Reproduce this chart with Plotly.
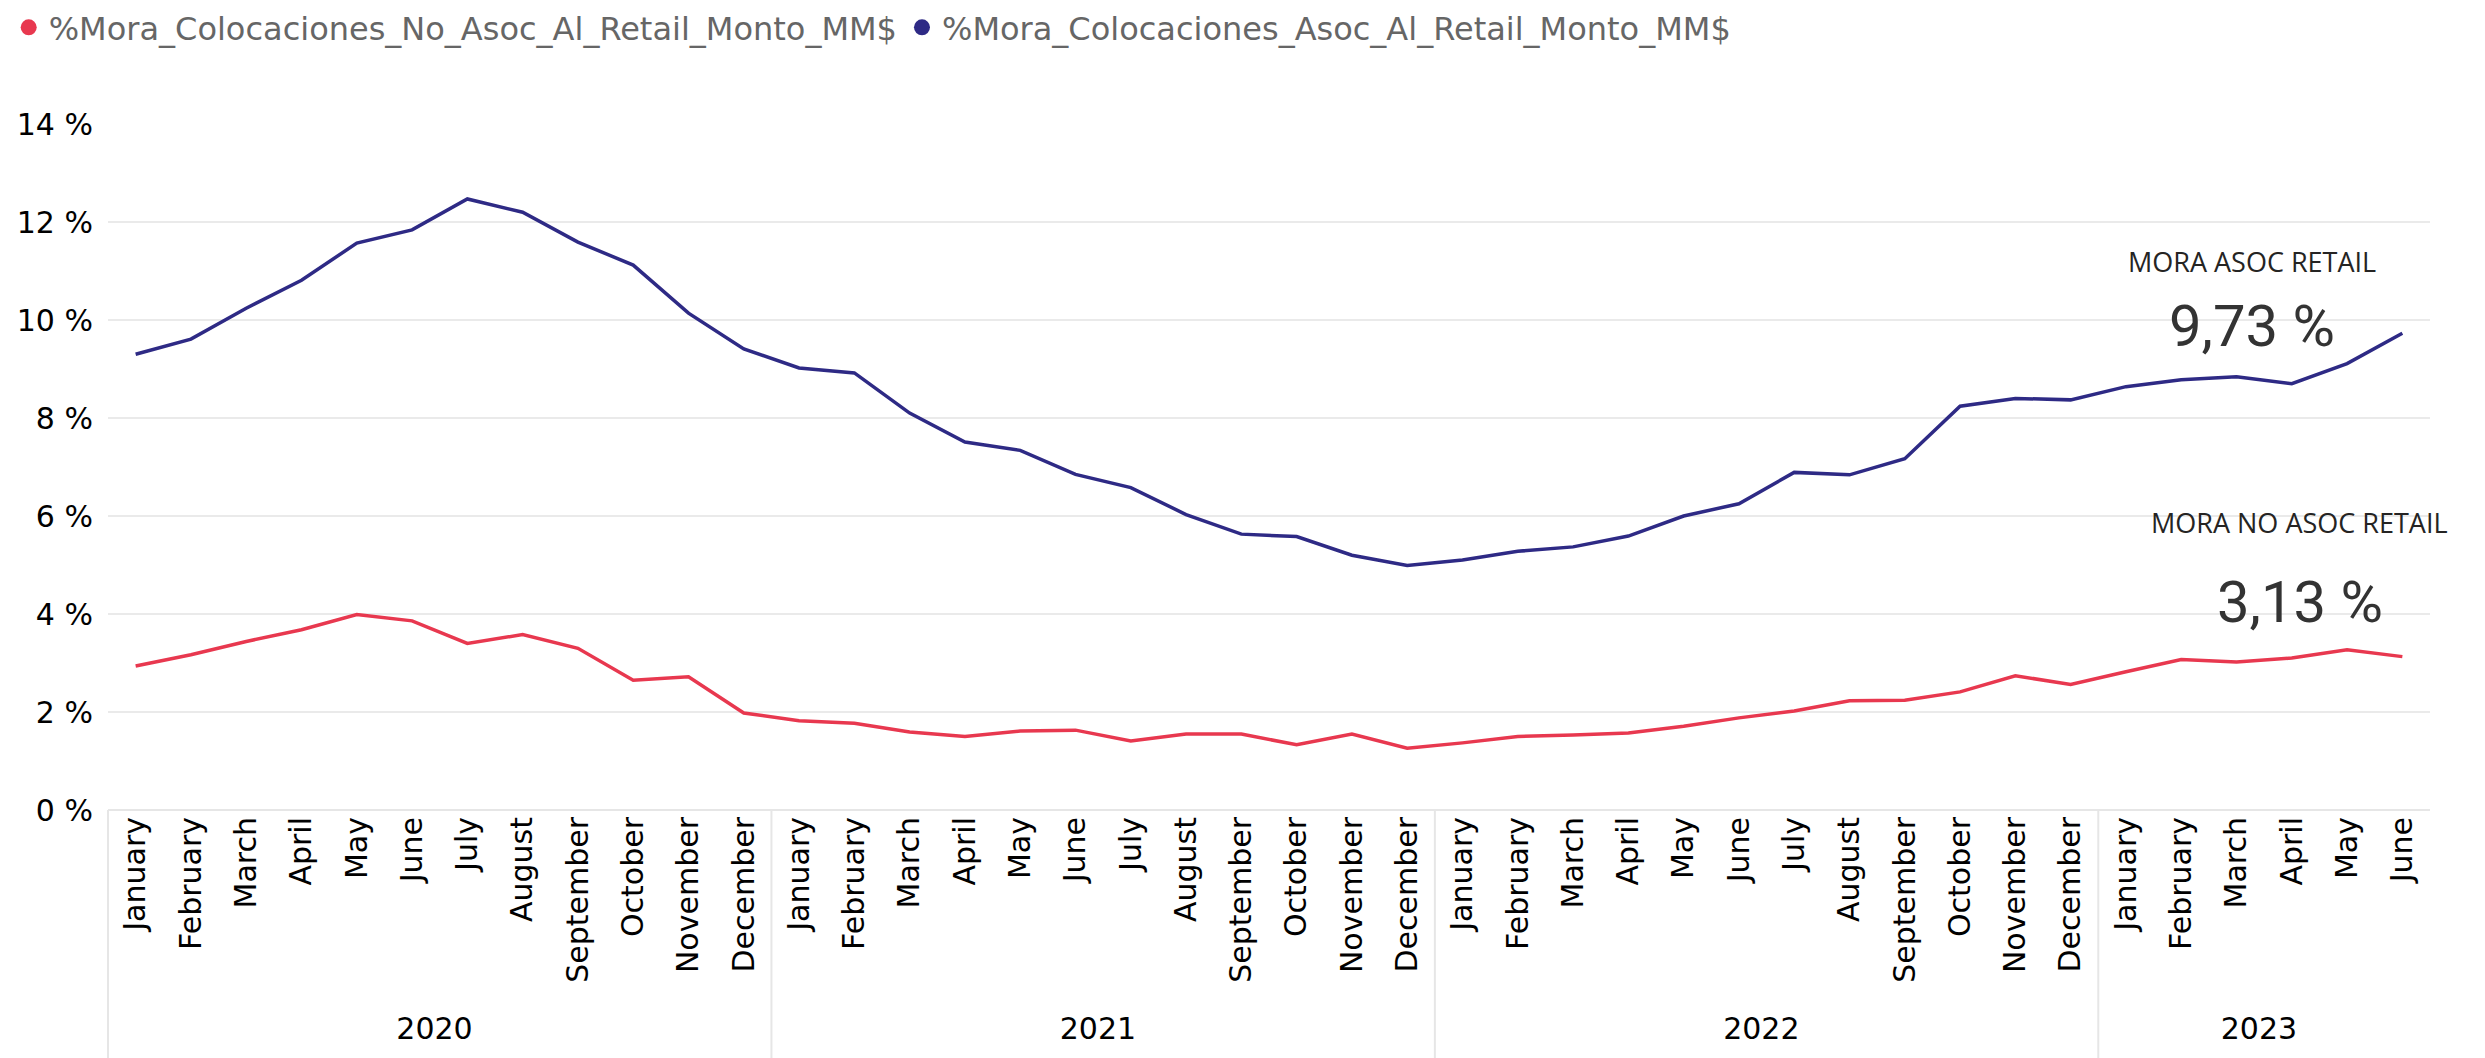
import plotly.graph_objects as go

# --- data -----------------------------------------------------------------
years = ["2020"] * 12 + ["2021"] * 12 + ["2022"] * 12 + ["2023"] * 6
month_names = ["January", "February", "March", "April", "May", "June",
               "July", "August", "September", "October", "November", "December"]
months = month_names * 3 + month_names[:6]

# % mora colocaciones asociadas al retail
mora_asoc = [9.30, 9.61, 10.24, 10.81, 11.57, 11.84, 12.47, 12.20, 11.59, 11.12, 10.14, 9.41,
             9.02, 8.92, 8.10, 7.51, 7.34, 6.85, 6.58, 6.03, 5.63, 5.58, 5.20, 4.99,
             5.10, 5.28, 5.37, 5.59, 6.00, 6.25, 6.89, 6.84, 7.17, 8.24, 8.40, 8.37,
             8.64, 8.78, 8.84, 8.70, 9.11, 9.73]

# % mora colocaciones no asociadas al retail
mora_no_asoc = [2.94, 3.17, 3.44, 3.68, 3.99, 3.86, 3.40, 3.58, 3.30, 2.65, 2.72, 1.98,
                1.82, 1.77, 1.59, 1.50, 1.61, 1.63, 1.41, 1.55, 1.55, 1.33, 1.55, 1.26,
                1.37, 1.50, 1.53, 1.57, 1.71, 1.88, 2.02, 2.23, 2.24, 2.41, 2.74, 2.56,
                2.82, 3.07, 3.02, 3.10, 3.27, 3.13]

y_ticks = [0, 2, 4, 6, 8, 10, 12, 14]
y_ticktext = [f"{v} %" for v in y_ticks]

name_no_asoc = "%Mora_Colocaciones_No_Asoc_Al_Retail_Monto_MM$"
name_asoc = "%Mora_Colocaciones_Asoc_Al_Retail_Monto_MM$"

RED = "#E8384F"
NAVY = "#2E2A85"
FONT = "DejaVu Sans"
W, H = 2485, 1058
M_L, M_R, M_T, M_B = 108, 55, 124, 248


def pct_es(v):
    return f"{v:.2f}".replace(".", ",") + " %"


fig = go.Figure()

fig.add_trace(go.Scatter(x=[years, months], y=mora_no_asoc, mode="lines",
                         line=dict(color=RED, width=3.5), showlegend=False,
                         name=name_no_asoc))
fig.add_trace(go.Scatter(x=[years, months], y=mora_asoc, mode="lines",
                         line=dict(color=NAVY, width=3.5), showlegend=False,
                         name=name_asoc))

# legend entries drawn as dots, like the original
for nm, col in [(name_no_asoc, RED), (name_asoc, NAVY)]:
    fig.add_trace(go.Scatter(x=[None], y=[None], mode="markers", name=nm,
                             marker=dict(color=col, size=17)))

# year group separators (left edge + each new year, no right edge)
n = len(months)
plot_h = H - M_T - M_B
sep_bottom = -(M_B + 5) / plot_h
for i in range(n):
    if i == 0 or years[i] != years[i - 1]:
        fig.add_shape(type="line", xref="paper", yref="paper",
                      x0=i / n, x1=i / n, y0=0, y1=sep_bottom,
                      line=dict(color="#E6E6E6", width=2))

annots = [
    ("MORA ASOC RETAIL", 0.9233, 0.799, 27, "Open Sans", "#252423"),
    (pct_es(mora_asoc[-1]), 0.9233, 0.7055, 58, "Roboto", "#333333"),
    ("MORA NO ASOC RETAIL", 0.944, 0.4198, 27, "Open Sans", "#252423"),
    (pct_es(mora_no_asoc[-1]), 0.944, 0.3032, 58, "Roboto", "#333333"),
]
for text, ax_, ay_, size, fam, col in annots:
    fig.add_annotation(text=text, x=ax_, y=ay_, xref="paper", yref="paper",
                       showarrow=False, xanchor="center", yanchor="middle",
                       font=dict(family=fam, size=size, color=col))

fig.update_layout(
    width=W, height=H,
    margin=dict(l=M_L, r=M_R, t=M_T, b=M_B, autoexpand=False),
    paper_bgcolor="white", plot_bgcolor="white",
    font=dict(family=FONT, color="#000000"),
    legend=dict(orientation="h", xref="container", yref="container",
                x=0.0035, xanchor="left", y=1.0, yanchor="top",
                font=dict(family=FONT, size=32, color="#666666"),
                itemwidth=30, tracegroupgap=0),
    xaxis=dict(type="multicategory", tickangle=-90, showgrid=False,
               range=[-0.5, n - 0.5],
               tickfont=dict(family=FONT, size=30, color="#000000"),
               showdividers=False, showline=False, ticks=""),
    yaxis=dict(range=[0, 14], tickmode="array", tickvals=y_ticks, ticktext=y_ticktext,
               showgrid=True, gridcolor="#EAEAEA", gridwidth=2,
               zeroline=True, zerolinecolor="#E6E6E6", zerolinewidth=2,
               tickfont=dict(family=FONT, size=30, color="#000000"),
               ticks="", ticklabelstandoff=14),
)

fig.write_html("out.html", config={"displayModeBar": False},
               post_script="document.body.style.margin='0px';document.body.style.overflow='hidden';")
